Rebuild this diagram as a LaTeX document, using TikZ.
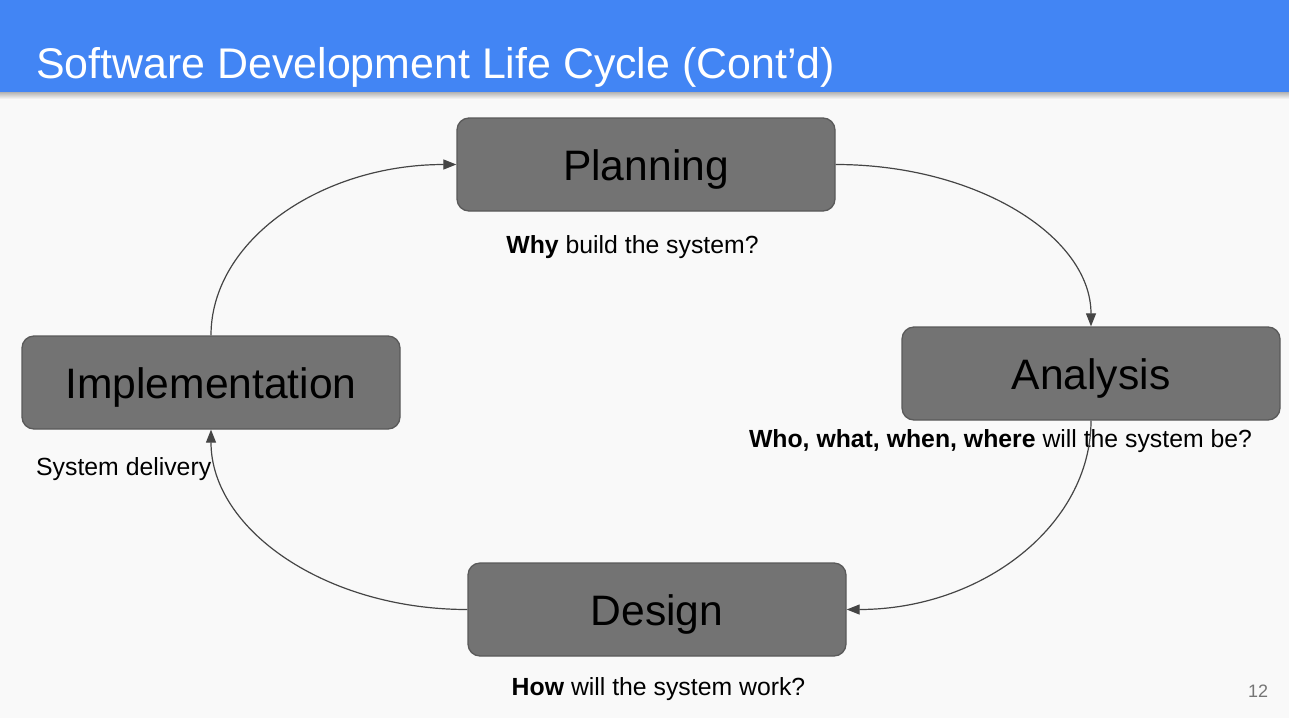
\documentclass[tikz,border=0pt]{standalone}
\usepackage{fontspec}
\setmainfont{Liberation Sans}
\usetikzlibrary{arrows.meta}

\definecolor{headblue}{HTML}{4285F4}
\definecolor{slidebg}{HTML}{F9F9F9}
\definecolor{boxfill}{HTML}{737373}
\definecolor{boxline}{HTML}{5A5A5A}
\definecolor{linkgray}{HTML}{454545}
\definecolor{pagegray}{HTML}{757575}

\tikzset{
  phasebox/.style={draw=boxline, line width=1.3pt, fill=boxfill, rounded corners=12pt,
    minimum width=378pt, minimum height=93pt, inner sep=0pt,
    text height=32pt, text depth=0pt,
    font=\fontsize{42.6}{50}\selectfont},
  phasenote/.style={anchor=base, inner sep=0pt, font=\fontsize{24.8}{30}\selectfont},
  cyclearrow/.style={draw=linkgray, line width=1.2pt, -{Triangle[length=13pt,width=10pt]}}
}

\begin{document}
\begin{tikzpicture}[x=1pt, y=-1pt]
    \useasboundingbox (0,0) rectangle (1289,718);

    % Draw the slide
    \fill[slidebg] (0,0) rectangle (1289,718);
    \shade[top color=black!30, bottom color=slidebg] (0,92) rectangle (1289,99);
    \fill[headblue] (0,0) rectangle (1289,92);
    \node[anchor=base west, inner sep=0pt, text=white, font=\fontsize{42.9}{50}\selectfont]
        (title) at (36,78) {Software Development Life Cycle (Cont’d)};

    % Draw the phases
    \node[phasebox] (plan) at (646,164.5) {Planning};
    \node[phasebox] (ana) at (1091,373.5) {Analysis};
    \node[phasebox] (impl) at (211,382.5) {Implementation};
    \node[phasebox] (des) at (657,609.5) {Design};

    % Draw the notes
    \node[phasenote] (whynote) at (632.5,253) {\textbf{Why} build the system?};
    \node[phasenote] (whonote) at (1000.5,447) {\textbf{Who, what, when, where} will the system be?};
    \node[phasenote, anchor=base west] (delnote) at (36,475) {System delivery};
    \node[phasenote] (hownote) at (658.5,695) {\textbf{How} will the system work?};
    \node[anchor=base, inner sep=0pt, text=pagegray, font=\fontsize{18}{22}\selectfont]
        (pagenum) at (1258,697) {12};

    % Draw the cycle
    \draw[cyclearrow] (impl.north) .. controls +(0,-94.7) and +(-135.9,0) .. (plan.west);
    \draw[cyclearrow] (plan.east) .. controls +(141.4,0) and +(0,-89.7) .. (ana.north);
    \draw[cyclearrow] (ana.south) .. controls +(0,104.7) and +(135.3,0) .. (des.east);
    \draw[cyclearrow] (des.west) .. controls +(-141.9,0) and +(0,99.7) .. (impl.south);
\end{tikzpicture}
\end{document}
